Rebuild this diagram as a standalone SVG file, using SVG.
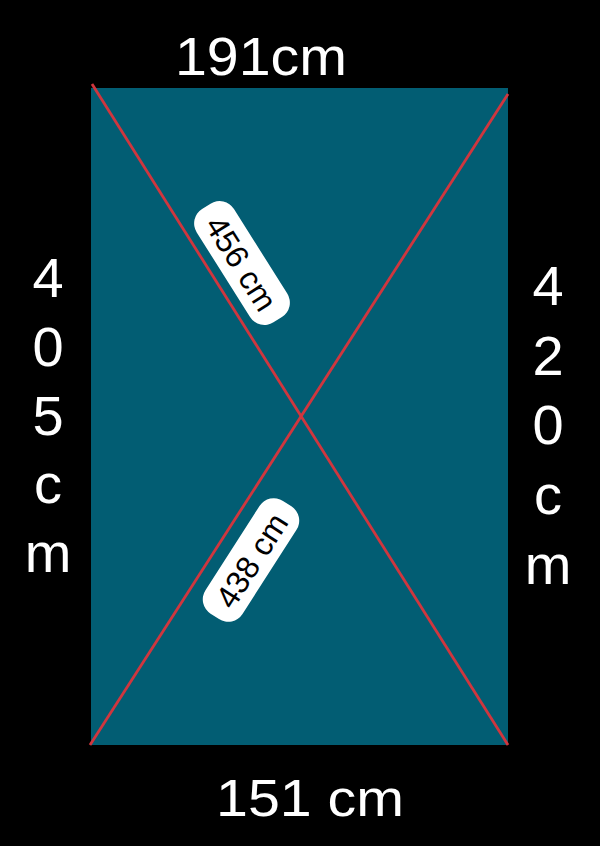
<svg xmlns="http://www.w3.org/2000/svg" width="600" height="846" viewBox="0 0 600 846">
<style>
.dim{fill:#ffffff;font-family:"Liberation Sans",Arial,sans-serif;text-anchor:middle}
.v{font-size:56px}
.lbl{fill:#000000;font-family:"Liberation Sans",Arial,sans-serif;font-size:32px;text-anchor:middle;dominant-baseline:central}
.box{fill:#ffffff}
.diag{stroke:#d0363e;stroke-width:2.8;fill:none}
</style>
<rect x="0" y="0" width="600" height="846" fill="#000000"/>
<g id="panel">
<rect x="91" y="88" width="417" height="657" fill="#025d73"/>
</g>
<g id="connectors">
<line class="diag" x1="92" y1="84" x2="508" y2="745"/>
<line class="diag" x1="90" y1="745" x2="508" y2="94"/>
</g>
<g id="top-label"><text class="dim" x="261" y="75" font-size="54" textLength="172" lengthAdjust="spacingAndGlyphs">191cm</text></g>
<g id="bottom-label"><text class="dim" x="310" y="816" font-size="52" textLength="188" lengthAdjust="spacingAndGlyphs">151 cm</text></g>
<g id="left-label">
<text class="dim v" x="48" y="297">4</text>
<text class="dim v" x="48" y="366">0</text>
<text class="dim v" x="48" y="435">5</text>
<text class="dim v" x="48" y="503">c</text>
<text class="dim v" x="48" y="572">m</text>
</g>
<g id="right-label">
<text class="dim v" x="548" y="305">4</text>
<text class="dim v" x="548" y="375">2</text>
<text class="dim v" x="548" y="444">0</text>
<text class="dim v" x="548" y="514">c</text>
<text class="dim v" x="548" y="584">m</text>
</g>
<g id="diag1-label" transform="translate(242,263) rotate(57.8)">
<rect class="box" x="-67" y="-22" width="134" height="44" rx="17"/>
<text class="lbl" x="0" y="1">456 cm</text>
</g>
<g id="diag2-label" transform="translate(251,560) rotate(-57.3)">
<rect class="box" x="-67" y="-22" width="134" height="44" rx="17"/>
<text class="lbl" x="0" y="1">438 cm</text>
</g>
</svg>
